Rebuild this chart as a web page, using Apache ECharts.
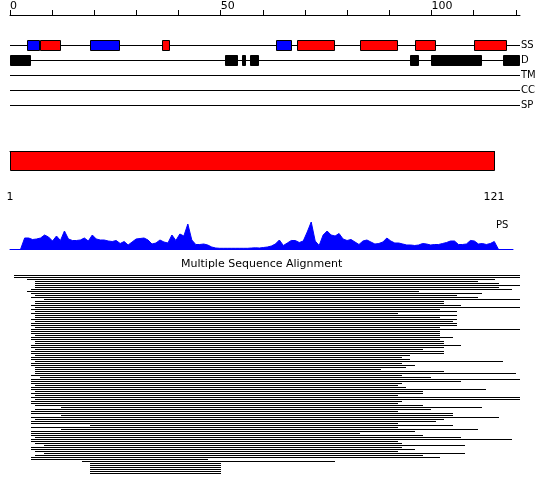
<!DOCTYPE html>
<html><head><meta charset="utf-8">
<script src="https://cdn.jsdelivr.net/npm/echarts@6/dist/echarts.min.js"></script>
<style>html,body{margin:0;padding:0;background:#fff}#c{width:550px;height:495px}</style>
</head><body><div id="c"></div>
<script>
// ---- data ----
const trackNames = ['SS', 'D', 'TM', 'CC', 'SP'];
const helixRanges = [[4, 7], [19, 26], [63, 67]];
const strandRanges = [[7, 12], [36, 38], [68, 77], [83, 92], [96, 101], [110, 118]];
const disorderRanges = [[0, 5], [51, 54], [55, 56], [57, 59], [95, 97], [100, 112], [117, 121]];
const topTickValues = [0, 10, 20, 30, 40, 50, 60, 70, 80, 90, 100, 110, 120];
const topTickLabels = [0, 50, 100];
const sequenceRange = [1, 121];
const bottomTickLabels = [1, 121];
const psValues = [
  0, 11, 11, 9.5, 10, 11, 14, 12, 8, 13,
  8.5, 18, 10, 8.5, 8.5, 9, 11, 8, 14, 10,
  9, 9, 8, 7.5, 8.5, 5.5, 7.5, 4, 7, 10,
  10.5, 11, 9, 5, 6, 9, 7, 6, 14, 8.5,
  15, 13, 25, 9, 4.5, 4.5, 5, 4, 2, 1,
  0.7, 0.7, 0.7, 0.7, 0.7, 0.7, 0.7, 0.7, 1, 1.2,
  1, 1.5, 2, 3, 5, 9, 3.5, 6, 8.5, 8.5,
  6.5, 8, 17, 27, 8, 3.5, 14, 18, 14, 13,
  15.5, 10, 8.5, 9.5, 7, 4.5, 8, 9, 7, 5,
  5.5, 7, 11, 8, 6, 6, 5, 4, 4, 3.5,
  4, 5.5, 5, 4, 4.5, 4.5, 5.5, 6.5, 8, 8,
  4.5, 4.5, 5, 8.5, 8, 5, 5.5, 4.5, 5.5, 7.5,
  0
];
const msaStart = [
  1, 1, 4, 6, 6, 6, 6, 5, 4, 5,
  6, 5, 8, 6, 6, 5, 6, 5, 6, 5,
  6, 6, 5, 6, 5, 5, 6, 5, 5, 5,
  6, 5, 5, 6, 6, 5, 5, 6, 5, 5,
  6, 5, 5, 6, 5, 5, 6, 6, 6, 6,
  5, 7, 5, 5, 5, 6, 5, 5, 6, 5,
  6, 5, 6, 5, 5, 6, 12, 6, 5, 5,
  12, 5, 6, 5, 5, 19, 5, 12, 5, 5,
  5, 6, 5, 5, 6, 8, 5, 5, 6, 8,
  6, 5, 5, 17, 19, 19, 19, 19, 19, 19
];
const msaEnd = [
  121, 121, 115, 111, 116, 121, 116, 119, 97, 112,
  106, 111, 121, 103, 103, 107, 121, 102, 106, 92,
  106, 102, 106, 105, 106, 106, 102, 121, 102, 102,
  102, 105, 102, 103, 103, 107, 103, 98, 103, 103,
  95, 93, 95, 117, 93, 96, 94, 88, 103, 120,
  93, 100, 121, 107, 93, 92, 94, 113, 98, 98,
  92, 121, 121, 93, 92, 98, 112, 100, 92, 105,
  105, 116, 103, 101, 92, 105, 92, 111, 96, 83,
  98, 107, 119, 92, 93, 108, 93, 96, 92, 108,
  98, 102, 47, 77, 50, 50, 50, 50, 50, 50
];

// ---- chart ----
const FONT = 'DejaVu Sans';
const chart = echarts.init(document.getElementById('c'), null, {renderer: 'canvas'});

function boxRenderer(fill, half) {
  return function (params, api) {
    const s = api.coord([api.value(0), api.value(2)]);
    const e = api.coord([api.value(1), api.value(2)]);
    const x0 = Math.round(s[0]) + 0.5, x1 = Math.round(e[0]) - 0.5;
    return {
      type: 'rect',
      shape: {x: x0, y: s[1] - half, width: x1 - x0, height: half * 2},
      style: {fill: fill, stroke: '#000', lineWidth: 1}
    };
  };
}

const helixData = helixRanges.map(r => [r[0], r[1], 0]);
const strandData = strandRanges.map(r => [r[0], r[1], 0]);
const disorderData = disorderRanges.map(r => [r[0], r[1], 1]);
const trackData = trackNames.map((n, i) => [0, 121, i]);

chart.setOption({
  animation: false,
  backgroundColor: '#fff',
  title: [
    {text: 'Multiple Sequence Alignment', left: 181, top: 259, padding: 0,
     textStyle: {fontSize: 11, fontWeight: 'normal', color: '#000', fontFamily: FONT}},
    {text: 'PS', left: 496, top: 220, padding: 0,
     textStyle: {fontSize: 10, fontWeight: 'normal', color: '#000', fontFamily: FONT}}
  ],
  grid: [
    {left: 10, top: 38, width: 510, height: 75, outerBoundsMode: 'none', containLabel: false},
    {left: 10, top: 151, width: 484, height: 30, outerBoundsMode: 'none', containLabel: false},
    {left: 10, top: 219, width: 503, height: 30, outerBoundsMode: 'none', containLabel: false},
    {left: 10, top: 275, width: 510, height: 198, outerBoundsMode: 'none', containLabel: false}
  ],
  xAxis: [
    {gridIndex: 0, type: 'value', min: 0, max: 121, position: 'top', offset: 23,
     axisLine: {show: true, lineStyle: {color: '#000', width: 1}},
     axisTick: {show: true, length: 5, customValues: topTickValues, lineStyle: {color: '#000'}},
     axisLabel: {show: true, customValues: topTickLabels, align: 'left', margin: 3,
       fontSize: 11, color: '#000', fontFamily: FONT},
     splitLine: {show: false}},
    {gridIndex: 1, type: 'value', min: sequenceRange[0], max: sequenceRange[1], position: 'bottom',
     axisLine: {show: true, lineStyle: {color: '#000', width: 1}},
     axisTick: {show: true, length: 5, customValues: bottomTickLabels, lineStyle: {color: '#000'}},
     axisLabel: {show: true, customValues: bottomTickLabels, margin: 11,
       fontSize: 11, color: '#000', fontFamily: FONT},
     splitLine: {show: false}},
    {gridIndex: 2, type: 'value', min: -1.68, max: 124.7,
     axisLine: {show: true, onZero: false, lineStyle: {color: '#0000ff', width: 1}},
     axisTick: {show: false}, axisLabel: {show: false}, splitLine: {show: false}},
    {gridIndex: 3, type: 'value', min: 0, max: 121, show: false}
  ],
  yAxis: [
    {gridIndex: 0, type: 'category', data: trackNames, inverse: true, position: 'right',
     axisLine: {show: false}, axisTick: {show: false}, splitLine: {show: false},
     axisLabel: {margin: 1, fontSize: 10, color: '#000', fontFamily: FONT}},
    {gridIndex: 1, type: 'value', min: 0, max: 30, inverse: true, show: false},
    {gridIndex: 2, type: 'value', min: 0, max: 30, show: false},
    {gridIndex: 3, type: 'value', min: 0, max: 99, inverse: true, show: false}
  ],
  series: [
    {type: 'custom', xAxisIndex: 0, yAxisIndex: 0, silent: true, data: trackData,
     renderItem: function (params, api) {
       const s = api.coord([api.value(0), api.value(2)]);
       const e = api.coord([api.value(1), api.value(2)]);
       const y = Math.floor(s[1]) + 0.5;
       return {type: 'line', shape: {x1: s[0], y1: y, x2: e[0], y2: y},
               style: {stroke: '#000', lineWidth: 1}};
     }},
    {type: 'custom', xAxisIndex: 0, yAxisIndex: 0, silent: true, data: helixData,
     renderItem: boxRenderer('#0000ff', 5), z: 3},
    {type: 'custom', xAxisIndex: 0, yAxisIndex: 0, silent: true, data: strandData,
     renderItem: boxRenderer('#ff0000', 5), z: 3},
    {type: 'custom', xAxisIndex: 0, yAxisIndex: 0, silent: true, data: disorderData,
     renderItem: boxRenderer('#000000', 5), z: 3},
    {type: 'custom', xAxisIndex: 1, yAxisIndex: 1, silent: true, data: [[sequenceRange[0], sequenceRange[1]]],
     renderItem: function (params, api) {
       const s = api.coord([api.value(0), 0]);
       const e = api.coord([api.value(1), 20]);
       const x0 = Math.round(s[0]) + 0.5, x1 = Math.round(e[0]) + 0.5;
       return {type: 'rect', shape: {x: x0, y: Math.round(s[1]) + 0.5, width: x1 - x0, height: Math.round(e[1] - s[1]) - 1},
               style: {fill: '#ff0000', stroke: '#000', lineWidth: 1}};
     }},
    {type: 'line', xAxisIndex: 2, yAxisIndex: 2, silent: true, symbol: 'none',
     data: psValues.map((v, i) => [i + 1, v]),
     lineStyle: {color: '#0000ff', width: 1},
     areaStyle: {color: '#0000ff', opacity: 1}},
    {type: 'custom', xAxisIndex: 3, yAxisIndex: 3, silent: true,
     data: msaStart.map((s, i) => [s, msaEnd[i], i]),
     renderItem: function (params, api) {
       const s = api.coord([api.value(0), api.value(2)]);
       const e = api.coord([api.value(1), api.value(2)]);
       const x0 = Math.round(s[0]);
       return {type: 'rect', shape: {x: x0, y: Math.round(s[1]), width: Math.round(e[0]) - x0, height: 1},
               style: {fill: '#000'}};
     }}
  ]
});
</script>
</body></html>
